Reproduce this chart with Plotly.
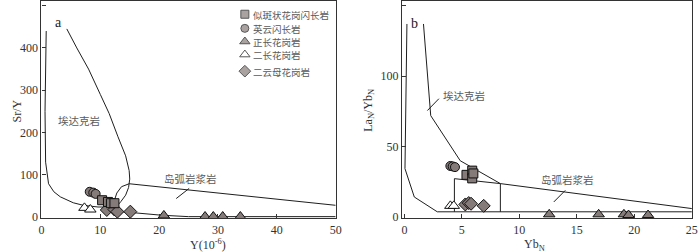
import plotly.graph_objects as go

# ---------------- data: panel a (Sr/Y vs Y) ----------------
adakite_a_x = [0.8, 0.6, 0.7, 0.95, 1.2, 2.1, 3.2, 5.4, 7.1, 9.6, 12.7, 13.5, 14.3, 14.8, 15.0, 14.9, 14.3, 13.0, 11.5, 10.0, 8.0, 6.0, 4.3]
adakite_a_y = [440, 250, 130, 99, 79, 60, 48, 34, 28, 24, 24, 37, 52, 70, 90, 110, 145, 190, 245, 290, 350, 400, 445]
arc_a_x = [50, 14.9, 13.6, 12.8, 12.4, 12.3, 12.8, 17.0, 20.3, 25.0, 50]
arc_a_y = [28, 79, 72, 57, 40, 25, 14, 8.7, 4.7, 1.2, 1.2]
leader_a_x = [22.9, 25.1]
leader_a_y = [44, 68]

sq_a_x = [10.3, 11.3, 11.8, 12.4]
sq_a_y = [40, 36, 33, 33]
ci_a_x = [8.2, 8.8, 9.2]
ci_a_y = [60, 58, 55]
tri_a_x = [20.8, 27.8, 29.2, 30.8, 33.8]
tri_a_y = [4, 1.5, 1.5, 1.5, 1.5]
otri_a_x = [7.3, 8.3]
otri_a_y = [22, 18]
dia_a_x = [11.1, 12.4, 12.9, 15.1]
dia_a_y = [17, 18, 13, 13]

# ---------------- data: panel b (LaN/YbN vs YbN) ----------------
adakite_b_x = [0.22, 0.05, 0.86, 2.86, 25]
adakite_b_y = [137, 34.4, 14.3, 3.8, 3.8]
adakite_b2_x = [1.66, 2.29, 4.86, 8.35, 25]
adakite_b2_y = [137, 72, 40, 23.8, 6.1]
box_b_x = [4.35, 4.35, 8.35, 8.35]
box_b_y = [3.8, 27.3, 23.8, 3.8]
leader_b1_x = [2.0, 3.0]
leader_b1_y = [75.6, 84]
leader_b2_x = [13.0, 14.0]
leader_b2_y = [10.8, 19]

sq_b_x = [5.4, 5.9, 5.9, 6.0]
sq_b_y = [30, 33, 27.5, 31]
ci_b_x = [4.0, 4.2, 4.4]
ci_b_y = [36.3, 36, 35.5]
tri_b_x = [12.6, 16.9, 19.1, 19.5, 21.2]
tri_b_y = [2, 2, 2, 1.5, 1.5]
otri_b_x = [4.0, 4.3]
otri_b_y = [8, 8]
dia_b_x = [5.3, 5.6, 5.8, 6.9]
dia_b_y = [9, 10, 9.5, 8]

legend_names = ["似斑状花岗闪长岩", "英云闪长岩", "正长花岗岩", "二长花岗岩", "二云母花岗岩"]
x_ticks_a = [0, 10, 20, 30, 40, 50]
y_ticks_a = [0, 100, 200, 300, 400, 500]
x_ticks_b = [0, 5, 10, 15, 20, 25]
y_ticks_b = [0, 50, 100, 150]

# ---------------- styling ----------------
W, H = 700, 252
MB = 34
PH = H - MB
FILL = "#857b79"
LINE = "#1e1e1e"
TXT = "#5a5a5a"
SERIF = "Liberation Serif, Times New Roman, serif"
CJK = "Noto Sans CJK SC"

def pxx(p):
    return p / W

def pxy(p):
    return (PH - p) / PH

fig = go.Figure()

def line(x, y, xa, ya, w=1.0):
    fig.add_trace(go.Scatter(x=x, y=y, mode="lines", xaxis=xa, yaxis=ya,
                             line=dict(color=LINE, width=w), showlegend=False,
                             hoverinfo="skip"))

def pts(x, y, xa, ya, symbol, size, fill=FILL):
    fig.add_trace(go.Scatter(x=x, y=y, mode="markers", xaxis=xa, yaxis=ya,
                             marker=dict(symbol=symbol, size=size, color=fill,
                                         line=dict(color="#111", width=1)),
                             showlegend=False))

# panel a
line(adakite_a_x, adakite_a_y, "x", "y")
line(arc_a_x, arc_a_y, "x", "y")
line(leader_a_x, leader_a_y, "x", "y")
pts(dia_a_x, dia_a_y, "x", "y", "diamond", 10)
pts(otri_a_x, otri_a_y, "x", "y", "triangle-up", 10, "white")
pts(ci_a_x, ci_a_y, "x", "y", "circle", 9)
pts(sq_a_x, sq_a_y, "x", "y", "square", 9)
pts(tri_a_x, tri_a_y, "x", "y", "triangle-up", 10)

# panel b
line(adakite_b_x, adakite_b_y, "x2", "y2")
line(adakite_b2_x, adakite_b2_y, "x2", "y2")
line(box_b_x, box_b_y, "x2", "y2")
line(leader_b1_x, leader_b1_y, "x2", "y2")
line(leader_b2_x, leader_b2_y, "x2", "y2")
pts(dia_b_x, dia_b_y, "x2", "y2", "diamond", 10)
pts(otri_b_x, otri_b_y, "x2", "y2", "triangle-up", 10, "white")
pts(ci_b_x, ci_b_y, "x2", "y2", "circle", 9)
pts(sq_b_x, sq_b_y, "x2", "y2", "square", 9)
pts(tri_b_x, tri_b_y, "x2", "y2", "triangle-up", 10)

# manual legend on a pixel-mapped overlay axis
leg_rows = [13.3, 27.5, 40.7, 53.8, 70.5]
leg_syms = ["square", "circle", "triangle-up", "triangle-up", "diamond"]
leg_fill = [FILL, FILL, FILL, "white", FILL]
leg_size = [8, 8, 9, 9, 9]
fig.add_trace(go.Scatter(x=[245] * 5, y=leg_rows, mode="markers", xaxis="x3", yaxis="y3",
                         marker=dict(symbol=leg_syms, size=leg_size, color=leg_fill,
                                     line=dict(color="#111", width=1)),
                         showlegend=False, hoverinfo="skip"))

ann = []
for name, r in zip(legend_names, leg_rows):
    ann.append(dict(x=pxx(251.5), y=pxy(r), xref="paper", yref="paper", text=name,
                    showarrow=False, xanchor="left", yanchor="middle", height=11,
                    font=dict(family=CJK, size=9.5, color=TXT)))

ann += [
    dict(x=6.3, y=228, xref="x", yref="y", text="埃达克岩", showarrow=False,
         font=dict(family=CJK, size=10.5, color=TXT)),
    dict(x=25.4, y=92, xref="x", yref="y", text="岛弧岩浆岩", showarrow=False,
         font=dict(family=CJK, size=10.5, color=TXT)),
    dict(x=5.2, y=86, xref="x2", yref="y2", text="埃达克岩", showarrow=False,
         font=dict(family=CJK, size=10.5, color=TXT)),
    dict(x=14.2, y=26.5, xref="x2", yref="y2", text="岛弧岩浆岩", showarrow=False,
         font=dict(family=CJK, size=10.5, color=TXT)),
    dict(x=pxx(51), y=pxy(12.5), xref="paper", yref="paper", text="a", showarrow=False,
         font=dict(family=SERIF, size=14, color="#222")),
    dict(x=pxx(417), y=pxy(13), xref="paper", yref="paper", text="b", showarrow=False,
         font=dict(family=SERIF, size=14, color="#222")),
    dict(x=pxx(187), y=-(245 - PH) / PH, xref="paper", yref="paper", text="Y(10<sup>-6</sup>)",
         showarrow=False, yanchor="middle", font=dict(family=SERIF, size=12, color="#333")),
    dict(x=pxx(551), y=-(245 - PH) / PH, xref="paper", yref="paper", text="Yb<sub>N</sub>",
         showarrow=False, yanchor="middle", font=dict(family=SERIF, size=12, color="#333")),
    dict(x=pxx(6), y=pxy(110), xref="paper", yref="paper", text="Sr/Y", textangle=-90,
         showarrow=False, font=dict(family=SERIF, size=12, color="#333")),
    dict(x=pxx(371), y=pxy(110), xref="paper", yref="paper", text="La<sub>N</sub>/Yb<sub>N</sub>",
         textangle=-90, showarrow=False, font=dict(family=SERIF, size=12, color="#333")),
]

axis_common = dict(showgrid=False, zeroline=False, showline=True, mirror=True,
                   linecolor="#333", linewidth=1.3, ticks="inside", ticklen=4,
                   tickwidth=1, tickcolor="#333",
                   tickfont=dict(family=SERIF, size=12, color="#333"))

fig.update_layout(
    width=W, height=H,
    margin=dict(l=0, r=0, t=0, b=MB),
    paper_bgcolor="white", plot_bgcolor="rgba(0,0,0,0)",
    showlegend=False,
    xaxis=dict(domain=[39 / W, 337 / W], range=[0, 50], tickvals=x_ticks_a, **axis_common),
    yaxis=dict(domain=[0, 1], range=[-2, 511], tickvals=y_ticks_a, anchor="x", **axis_common),
    xaxis2=dict(domain=[404.3 / W, 698.3 / W], range=[-0.2, 25.05], tickvals=x_ticks_b,
                anchor="y2", **axis_common),
    yaxis2=dict(domain=[0, 1], range=[-0.6, 153.3], tickvals=y_ticks_b, anchor="x2", **axis_common),
    xaxis3=dict(domain=[0, 1], range=[0, W], visible=False, anchor="y3"),
    yaxis3=dict(domain=[0, 1], range=[PH, 0], visible=False, anchor="x3"),
    annotations=ann,
)

fig.write_html("out.html", config={"displayModeBar": False},
               post_script="document.body.style.margin='0';document.body.style.overflow='hidden';")
